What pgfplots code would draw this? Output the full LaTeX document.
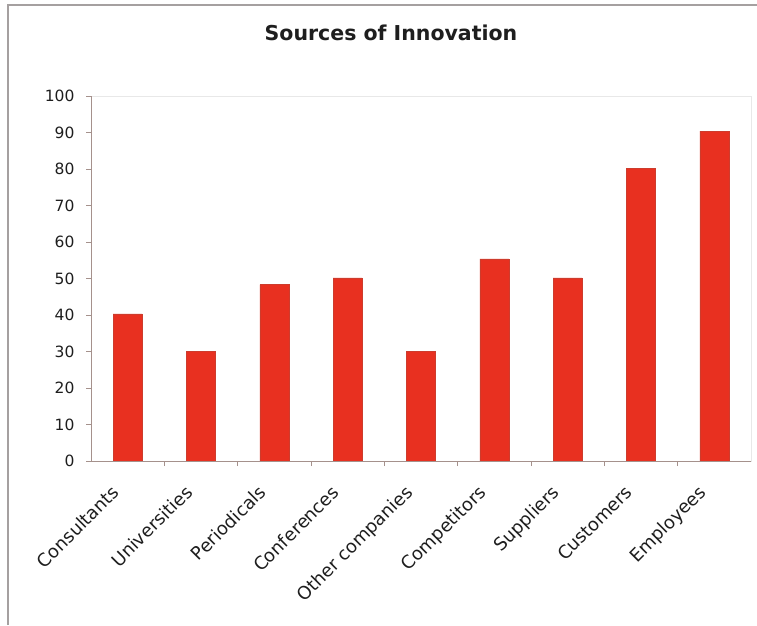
\documentclass[border=0pt]{standalone}
\usepackage{pgfplots}
\pgfplotsset{compat=1.18}
\usepackage{fontspec}
\setmainfont{DejaVu Sans}
\definecolor{barred}{RGB}{232,48,32}
\definecolor{baredge}{RGB}{205,60,45}
\definecolor{axiscol}{RGB}{165,145,140}
\definecolor{framecol}{RGB}{165,160,160}
\definecolor{lightbox}{RGB}{232,232,232}
\definecolor{txt}{RGB}{30,30,30}
\begin{document}
\begin{tikzpicture}[x=1pt,y=1pt]
\begin{axis}[
  at={(91pt,164pt)}, anchor=south west,
  scale only axis, width=660pt, height=365pt,
  xmin=0.5, xmax=9.5, ymin=0, ymax=100,
  ytick={0,10,...,100},
  xtick={1.5,2.5,...,8.5}, xticklabels={},
  extra x ticks={1,2,3,4,5,6,7,8,9},
  extra x tick labels={Consultants,Universities,Periodicals,Conferences,Other companies,Competitors,Suppliers,Customers,Employees},
  extra x tick style={major tick length=0pt,
    tick label style={rotate=45, anchor=north east, font=\fontsize{18}{18}\selectfont, text=txt, inner sep=1pt, xshift=-27pt, yshift=-3pt}},
  xtick pos=left, ytick pos=left,
  tick align=outside, major tick length=5pt,
  tick style={axiscol, line width=0.8pt},
  axis line style={lightbox, line width=0.8pt},
  yticklabel style={font=\fontsize{15.5}{15.5}\selectfont, text=txt, xshift=-8pt},
  /pgf/number format/assume math mode=true,
  ybar, bar width=29pt,
]
\addplot[fill=barred, draw=baredge, line width=0.5pt] coordinates {
  (1,40.3) (2,30) (3,48.3) (4,50.2) (5,30) (6,55.4) (7,50.2) (8,80.1) (9,90.4)
};
\draw[axiscol, line width=1pt] (rel axis cs:0,1) -- (rel axis cs:0,0) -- (rel axis cs:1,0);
\end{axis}
\node[font=\fontsize{20.5}{20.5}\selectfont\bfseries, text=txt] at (391pt,592pt) {Sources of Innovation};
\draw[framecol, line width=2pt] (8pt,0pt) -- (8pt,620pt) -- (757pt,620pt);
\pgfresetboundingbox
\path (0,0) rectangle (757pt,625pt);
\end{tikzpicture}
\end{document}
